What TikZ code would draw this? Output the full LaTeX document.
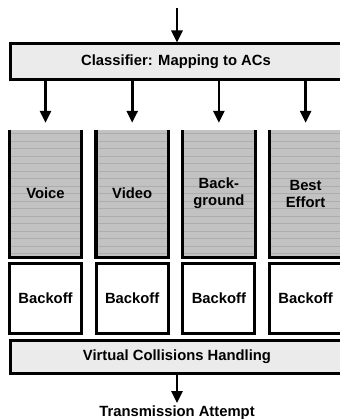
\documentclass[tikz,border=0pt]{standalone}
\usepackage{fontspec}
\setmainfont{Liberation Sans}
\usetikzlibrary{arrows.meta}

\definecolor{barfill}{HTML}{EBEBEB}
\definecolor{queuefill}{HTML}{C2C2C2}
\definecolor{queueline}{HTML}{ADADAD}

\tikzset{
  lbl/.style={font=\fontsize{14.8}{17}\selectfont\bfseries, align=center},
  bar/.style={lbl, draw=black, line width=3pt, fill=barfill, inner sep=0pt},
  queue/.style={lbl, minimum width=72pt, minimum height=127pt, inner sep=0pt},
  qborder/.style={line width=3.2pt, line join=miter},
  backoff/.style={lbl, draw=black, line width=3pt, fill=white,
                  minimum width=72pt, minimum height=70pt, inner sep=0pt},
  arr/.style={line width=2.6pt, -{Triangle[length=12pt,width=11pt]}},
}

\begin{document}
\begin{tikzpicture}[x=1pt, y=-1pt]
\useasboundingbox (0,0) rectangle (339,419);

% classifier bar
\node[bar, minimum width=340pt, minimum height=36pt] (cls) at (180,62) {};
\node[lbl] (clstxt) at (176,62) {Classifier: Mapping to ACs};
\coordinate (in) at (177,8);
\draw[arr] (in) -- (in |- cls.north);

% access-category queues (open at the top, striped)
\foreach \i/\x/\t in {1/45.5/Voice, 2/132.2/Video, 3/218.9/{Back-\\ground}, 4/305.6/{Best\\Effort}} {
  \node[queue] (q\i) at (\x,193.5) {};
  \fill[queuefill] (q\i.north west) rectangle (q\i.south east);
  \begin{scope}
    \clip (q\i.north west) rectangle (q\i.south east);
    \foreach \k in {0,...,16} {
      \draw[queueline, line width=0.7pt]
        ([yshift={-4pt-7.5pt*\k}]q\i.north west) -- ([yshift={-4pt-7.5pt*\k}]q\i.north east);
    }
  \end{scope}
  \node[lbl] at (q\i) {\t};
  \draw[qborder] (q\i.north west) -- (q\i.south west) -- (q\i.south east) -- (q\i.north east);
  \draw[arr, shorten >=7pt] (cls.south -| q\i.north) -- (q\i.north);
  % backoff entity of each queue
  \node[backoff] (b\i) at (\x,298) {Backoff};
}

% virtual collision handling and output
\node[bar, minimum width=340pt, minimum height=33pt] (vch) at (180,356.5) {};
\node[lbl] (vchtxt) at (177,356.5) {Virtual Collisions Handling};
\node[lbl, anchor=north, inner sep=0pt] (tx) at (177,406) {Transmission Attempt};
\draw[arr] (vch.south -| tx.north) -- ([yshift=3pt]tx.north);
\end{tikzpicture}
\end{document}
